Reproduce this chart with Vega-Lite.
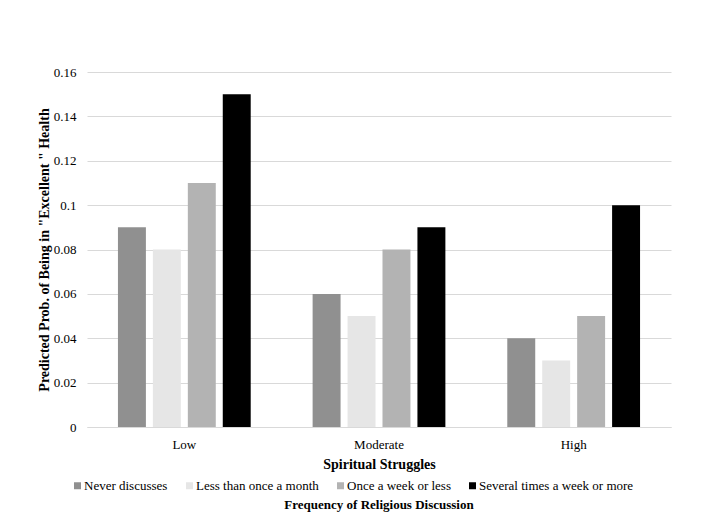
{
  "$schema": "https://vega.github.io/schema/vega-lite/v6.json",
  "autosize": "none",
  "width": 584,
  "height": 355,
  "padding": {"left": 87, "top": 72, "right": 32, "bottom": 104},
  "background": "white",
  "data": {
    "values": [
      {"struggle": "Low", "freq": "Never discusses", "prob": 0.09},
      {"struggle": "Low", "freq": "Less than once a month", "prob": 0.08},
      {"struggle": "Low", "freq": "Once a week or less", "prob": 0.11},
      {"struggle": "Low", "freq": "Several times a week or more", "prob": 0.15},
      {"struggle": "Moderate", "freq": "Never discusses", "prob": 0.06},
      {"struggle": "Moderate", "freq": "Less than once a month", "prob": 0.05},
      {"struggle": "Moderate", "freq": "Once a week or less", "prob": 0.08},
      {"struggle": "Moderate", "freq": "Several times a week or more", "prob": 0.09},
      {"struggle": "High", "freq": "Never discusses", "prob": 0.04},
      {"struggle": "High", "freq": "Less than once a month", "prob": 0.03},
      {"struggle": "High", "freq": "Once a week or less", "prob": 0.05},
      {"struggle": "High", "freq": "Several times a week or more", "prob": 0.1}
    ]
  },
  "title": {
    "text": "Frequency of Religious Discussion",
    "orient": "bottom",
    "frame": "group",
    "anchor": "middle",
    "font": "Liberation Serif",
    "fontSize": 13,
    "fontWeight": "bold",
    "color": "#000000",
    "offset": 6
  },
  "mark": {"type": "bar"},
  "encoding": {
    "x": {
      "field": "struggle",
      "type": "nominal",
      "sort": ["Low", "Moderate", "High"],
      "scale": {"paddingInner": 0.318, "paddingOuter": 0.159},
      "axis": {
        "title": "Spiritual Struggles",
        "labelAngle": 0,
        "ticks": false,
        "tickSize": 0,
        "domainColor": "#d9d9d9",
        "labelPadding": 11,
        "titlePadding": 6
      }
    },
    "xOffset": {
      "field": "freq",
      "type": "nominal",
      "sort": ["Never discusses", "Less than once a month", "Once a week or less", "Several times a week or more"],
      "scale": {"paddingInner": 0.2, "paddingOuter": 0}
    },
    "y": {
      "field": "prob",
      "type": "quantitative",
      "scale": {"domain": [0, 0.16], "nice": false},
      "axis": {
        "title": "Predicted Prob. of Being in \"Excellent \" Health",
        "values": [0, 0.02, 0.04, 0.06, 0.08, 0.1, 0.12, 0.14, 0.16],
        "format": "~g",
        "domain": false,
        "ticks": false,
        "tickSize": 0,
        "labelPadding": 11,
        "titlePadding": 2,
        "gridColor": "#d9d9d9"
      }
    },
    "color": {
      "field": "freq",
      "type": "nominal",
      "sort": ["Never discusses", "Less than once a month", "Once a week or less", "Several times a week or more"],
      "scale": {
        "domain": ["Never discusses", "Less than once a month", "Once a week or less", "Several times a week or more"],
        "range": ["#909090", "#e6e6e6", "#b3b3b3", "#000000"]
      },
      "legend": {
        "title": null,
        "orient": "none",
        "direction": "horizontal",
        "legendX": -16,
        "legendY": 407,
        "symbolType": "square",
        "symbolSize": 49,
        "symbolStrokeWidth": 0,
        "symbolOpacity": 1,
        "labelOffset": 0,
        "columnPadding": 15,
        "labelFont": "Liberation Serif",
        "labelFontSize": 13,
        "labelColor": "#000000",
        "labelLimit": 300
      }
    }
  },
  "config": {
    "view": {"stroke": null},
    "axis": {
      "labelFont": "Liberation Serif",
      "labelFontSize": 13,
      "labelColor": "#000000",
      "titleFont": "Liberation Serif",
      "titleFontSize": 14,
      "titleFontWeight": "bold",
      "titleColor": "#000000",
      "gridColor": "#d9d9d9"
    },
    "axisX": {"grid": false}
  }
}
